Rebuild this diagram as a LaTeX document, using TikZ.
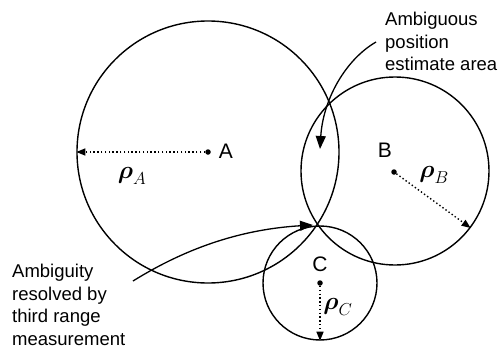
\documentclass[tikz,border=0pt]{standalone}
\usepackage{amsmath}
\usepackage{fontspec}
\setmainfont{Liberation Sans}
\usetikzlibrary{arrows.meta}
\begin{document}
\begin{tikzpicture}[x=1pt,y=-1pt,
  ring/.style={circle,draw,line width=1.4pt,inner sep=0pt},
  ctr/.style={circle,fill,inner sep=0pt,minimum size=5.5pt},
  radius/.style={line width=1.4pt,dash pattern=on 1.4pt off 2.4pt,-{Triangle[length=9pt,width=7pt]}},
  pointer/.style={line width=1.3pt,-{Triangle[length=13pt,width=10pt]}},
  lbl/.style={font=\fontsize{21}{21}\selectfont,inner sep=0pt},
  rho/.style={font=\fontsize{25}{25}\selectfont,inner sep=0pt},
  note/.style={font=\fontsize{18.5}{22.5}\selectfont,align=left,inner sep=0pt,anchor=north west}]
\useasboundingbox (0,0) rectangle (501,348);
% circles
\node[ring,minimum size=262pt] (cA) at (208,152) {};
\node[ring,minimum size=188pt] (cB) at (395,171) {};
\node[ring,minimum size=114pt] (cC) at (320,283) {};
% centres
\node[ctr] (a) at (208,152) {};
\node[ctr] (b) at (394,172) {};
\node[ctr] (c) at (320,283) {};
% labels
\node[lbl] (la) at (226,151) {A};
\node[lbl] (lb) at (385,150) {B};
\node[lbl] (lc) at (320,264) {C};
% radii
\draw[radius] (a) -- (cA.west);
\draw[radius] (b) -- (cB.-37);
\draw[radius] (c) -- (cC.south);
\node[rho] (ra) at (132,176) {$\boldsymbol{\rho}_{A}$};
\node[rho] (rb) at (434,175) {$\boldsymbol{\rho}_{B}$};
\node[rho] (rc) at (338,307) {$\boldsymbol{\rho}_{C}$};
% notes
\node[note] (n1) at (385,12) {Ambiguous\\position\\estimate area};
\node[note] (n2) at (12,264) {Ambiguity\\resolved by\\third range\\measurement};
\coordinate (s1) at (376,42);
\coordinate (t1) at (320,149);
\coordinate (s2) at (133,281);
\coordinate (t2) at (313,225);
\draw[pointer] (s1) .. controls (345,60) and (323,100) .. (t1);
\draw[pointer] (s2) .. controls (175,255) and (230,230) .. (t2);
\end{tikzpicture}
\end{document}
